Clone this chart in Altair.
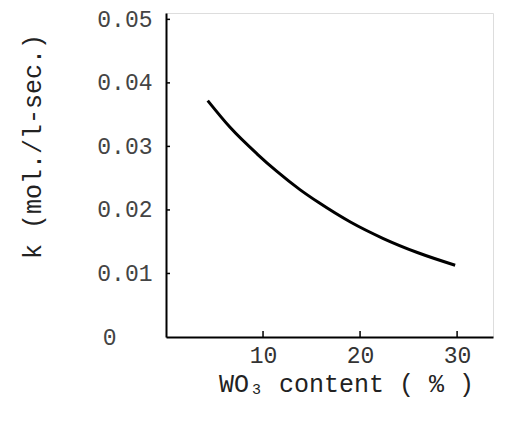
import altair as alt
import pandas as pd

wo3 = [4.3, 6.6, 9.4, 11.4, 13.8, 15.7, 19.0, 22.4, 25.9, 29.8]
k = [0.0372, 0.0330, 0.0288, 0.0261, 0.0232, 0.0212, 0.0181, 0.0155, 0.0133, 0.0113]
y_ticks = [0, 0.01, 0.02, 0.03, 0.04, 0.05]
x_ticks = [10, 20, 30]

df = pd.DataFrame({"x": wo3, "y": k})
FONT = "Liberation Mono"

xs = alt.Scale(domain=[0, 33.7], nice=False, zero=False)
ys = alt.Scale(domain=[0, 0.051], nice=False)

line = alt.Chart(df).mark_line(color="black", strokeWidth=3, interpolate="monotone").encode(
    x=alt.X("x:Q", scale=xs, axis=alt.Axis(
        values=x_ticks, title="WO₃ content ( % )", grid=False,
        domainColor="black", domainWidth=2, tickColor="black", tickSize=0,
        labelFont=FONT, labelFontSize=23, labelColor="#333", labelPadding=7,
        titleFont=FONT, titleFontSize=25, titleFontWeight="normal", titleColor="#222",
        titleX=180, titleY=46, titleBaseline="middle")),
    y=alt.Y("y:Q", scale=ys, axis=alt.Axis(
        values=y_ticks, title="k (mol./l-sec.)", grid=False,
        labelExpr="datum.value == 0 ? '0' : format(datum.value, '.2f')",
        domainColor="black", domainWidth=2, tickColor="black", tickSize=0,
        labelFont=FONT, labelFontSize=23, labelColor="#444",
        labelPadding={"condition": {"test": "datum.value == 0", "value": 50}, "value": 14},
        titleFont=FONT, titleFontSize=25, titleFontWeight="normal", titleColor="#222",
        titleX=-134, titleY=133, titleAngle=270, titleBaseline="middle")),
)

ytick_df = pd.DataFrame({"y": y_ticks[1:]})
yt = alt.Chart(ytick_df).mark_rule(color="black", strokeWidth=1.5).encode(
    y=alt.Y("y:Q", scale=ys), x=alt.value(0), x2=alt.value(4))
xtick_df = pd.DataFrame({"x": x_ticks})
xt = alt.Chart(xtick_df).mark_rule(color="black", strokeWidth=1.5).encode(
    x=alt.X("x:Q", scale=xs), y=alt.value(318), y2=alt.value(324))

chart = alt.layer(line, yt, xt).properties(
    width=327, height=324,
    autosize=alt.AutoSizeParams(type="none"),
    padding={"left": 158, "top": 5, "right": 5, "bottom": 79},
).configure_view(stroke=None).configure(background="white")

chart.save("out.html", embed_options={"renderer": "svg", "actions": False})
